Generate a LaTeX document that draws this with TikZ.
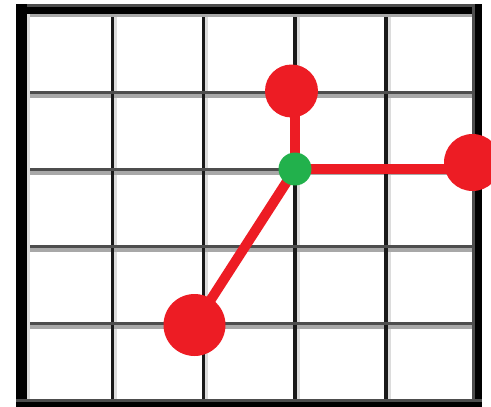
\documentclass[tikz,border=0pt]{standalone}
\usetikzlibrary{backgrounds}
\definecolor{pred}{HTML}{ED1C24}
\definecolor{pgreen}{HTML}{22B14C}
\definecolor{gdark}{HTML}{4D4D4D}
\definecolor{glight}{HTML}{A8A8A8}
\definecolor{vlight}{HTML}{DCDCDC}
\tikzset{
  dot/.style={circle, fill=#1, draw=none, inner sep=0pt},
  link/.style={pred, line width=10pt, line cap=butt},
  vline/.style={black!90, line width=3.5pt},
  vshade/.style={vlight, line width=3pt},
  hline/.style={gdark, line width=3pt},
  hshade/.style={glight, line width=4pt},
}
\begin{document}
\begin{tikzpicture}[x=1pt,y=-1pt]
\useasboundingbox (0,0) rectangle (491,407);
% nodes
\node[dot=pred, minimum size=53pt] (top) at (291.5,91) {};
\node[dot=pred, minimum size=57pt] (right) at (472.5,162.5) {};
\node[dot=pred, minimum size=62pt] (low) at (194.5,325) {};
\node[dot=pgreen, minimum size=33pt] (hub) at (295,169) {};
\begin{pgfonlayer}{background}
  \fill[white] (0,0) rectangle (491,407);
  % grid shades
  \foreach \x in {112.5,203.5,295,386} {
    \draw[vshade] (\x+3.25,14) -- (\x+3.25,399);
  }
  \foreach \y in {92.5,169.5,246.5,323.5} {
    \draw[hshade] (27,\y+3.5) -- (472,\y+3.5);
  }
  \foreach \x in {112.5,203.5,295,386} {
    \draw[vline] (\x,14) -- (\x,399);
  }
  \foreach \y in {92.5,169.5,246.5,323.5} {
    \draw[hline] (27,\y) -- (472,\y);
  }
  % border shades
  \fill[glight] (27,14) rectangle (472,17);
  \fill[vlight] (27,14) rectangle (30,399);
  % borders
  \fill[gdark] (16,4) rectangle (482,7);
  \fill[black] (16,7) rectangle (482,14);
  \fill[black] (16,4) rectangle (27,407);
  \fill[gdark] (472,4) rectangle (475,407);
  \fill[black] (475,4) rectangle (482,407);
  \fill[gdark] (16,399) rectangle (482,402);
  \fill[black] (16,402) rectangle (482,407);
  % connectors
  \draw[link] (hub.center |- top.center) -- (hub.center);
  \draw[link] (hub.center) -- (hub.center -| right.center);
  \draw[link] (hub.center) -- (low.center);
\end{pgfonlayer}
\end{tikzpicture}
\end{document}
